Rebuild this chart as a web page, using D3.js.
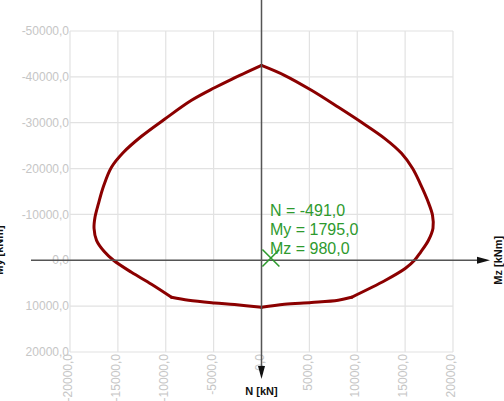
<!DOCTYPE html>
<html>
<head>
<meta charset="utf-8">
<script src="https://cdn.jsdelivr.net/npm/d3@7/dist/d3.min.js"></script>
<style>
  html, body { margin: 0; padding: 0; background: #fff; }
  svg { display: block; font-family: Arial, "Liberation Sans", sans-serif; }
</style>
</head>
<body>
<svg id="chart" width="504" height="401"></svg>
<script>
// Interaction envelope: bending moment Mz [kNm] vs. axial force N [kN], clockwise from the top
const envelopeMz = [0, 2400, 5220, 8040, 10440, 12850, 14620, 15770, 16610, 17340, 17860, 17910, 17440, 16610, 15980, 15040, 12950,
                    9400, 8010, 5220, 2400, 0, -2820, -4910, -7620,
                    -9400, -11490, -13580, -15460, -16400, -17230, -17490, -17390, -17020, -16500, -15670, -14410, -12530, -10130, -7310, -4910, -3130];
const envelopeN  = [-42500, -40340, -37070, -33360, -30090, -26600, -23330, -20060, -16570, -13080, -9810, -6980, -4360, -1740, 0, 1740, 4360,
                    8070, 8720, 9220, 9600, 10250, 9660, 9310, 8720,
                    8070, 5230, 2620, 0, -1850, -4360, -6980, -9380, -12430, -16140, -20280, -23550, -27040, -30750, -34890, -37620, -39470];
// Indices where the envelope has a sharp corner
const cornerIdx = [0, 17, 21, 25];

// Design load point
const loadN = -491.0;
const loadMy = 1795.0;
const loadMz = 980.0;

const xTicks = [-20000, -15000, -10000, -5000, 0, 5000, 10000, 15000, 20000];
const yTicks = [-50000, -40000, -30000, -20000, -10000, 0, 10000, 20000];

const fmt = v => d3.format(".1f")(v).replace(".", ",").replace("−", "-");

const svg = d3.select("#chart");
const x = d3.scaleLinear().domain([-20000, 20000]).range([70, 453]);
const y = d3.scaleLinear().domain([-50000, 20000]).range([31, 352]);

// Grid
const grid = svg.append("g").attr("stroke", "#e2e2e2").attr("stroke-width", 1.2);
grid.selectAll("line.v").data(xTicks).join("line")
  .attr("x1", d => x(d)).attr("x2", d => x(d))
  .attr("y1", y.range()[0]).attr("y2", y.range()[1]);
grid.selectAll("line.h").data(yTicks).join("line")
  .attr("y1", d => y(d)).attr("y2", d => y(d))
  .attr("x1", x.range()[0]).attr("x2", x.range()[1]);

// Tick labels
svg.append("g").selectAll("text").data(yTicks).join("text")
  .attr("x", 69).attr("y", d => y(d)).attr("dy", "0.35em")
  .attr("text-anchor", "end").attr("font-size", 12).attr("fill", "#c6c6c6")
  .text(fmt);
svg.append("g").selectAll("text").data(xTicks).join("text")
  .attr("transform", d => `translate(${x(d) - 2},${y.range()[1] + 2}) rotate(-90)`)
  .attr("dy", "0.35em")
  .attr("text-anchor", "end").attr("font-size", 12).attr("fill", "#c6c6c6")
  .text(fmt);

// Envelope: smooth pieces between the corner points
const pts = envelopeMz.map((m, i) => [x(m), y(envelopeN[i])]);
const bounds = cornerIdx.concat([pts.length]);
const smooth = d3.line().curve(d3.curveCatmullRom.alpha(0.5));
const envG = svg.append("g").attr("fill", "none").attr("stroke", "#8b0000")
  .attr("stroke-width", 3).attr("stroke-linejoin", "round").attr("stroke-linecap", "round");
for (let k = 0; k < cornerIdx.length; k++) {
  const seg = [];
  for (let i = bounds[k]; i <= bounds[k + 1]; i++) seg.push(pts[i % pts.length]);
  envG.append("path").attr("d", smooth(seg));
}

// Axes through origin with arrows
const axisColor = "#555";
svg.append("line").attr("x1", 31).attr("x2", 486).attr("y1", y(0)).attr("y2", y(0))
  .attr("stroke", axisColor).attr("stroke-width", 1.5);
svg.append("path")
  .attr("d", `M${490},${y(0)} L${477},${y(0) - 3.5} L${477},${y(0) + 3.5} Z`)
  .attr("fill", "#111");
svg.append("line").attr("x1", x(0)).attr("x2", x(0)).attr("y1", 0).attr("y2", 372)
  .attr("stroke", axisColor).attr("stroke-width", 1.5);
svg.append("path")
  .attr("d", `M${x(0)},${379} L${x(0) - 3.5},${366} L${x(0) + 3.5},${366} Z`)
  .attr("fill", "#111");

// Axis titles
svg.append("text").attr("x", x(0)).attr("y", 395).attr("text-anchor", "middle")
  .attr("font-size", 11).attr("font-weight", "bold").attr("fill", "#111").text("N [kN]");
svg.append("text").attr("transform", `translate(502,${y(0)}) rotate(-90)`)
  .attr("text-anchor", "middle").attr("font-size", 11).attr("font-weight", "bold")
  .attr("fill", "#111").text("Mz [kNm]");
svg.append("text").attr("transform", `translate(3,250) rotate(-90)`)
  .attr("text-anchor", "middle").attr("font-size", 11).attr("font-weight", "bold")
  .attr("fill", "#111").text("My [kNm]");

// Load point marker and values
const green = "#2e9a2e";
const px = x(loadMz), py = y(loadN), s = 8.5;
svg.append("path")
  .attr("d", `M${px - s},${py - s} L${px + s},${py + s} M${px - s},${py + s} L${px + s},${py - s}`)
  .attr("stroke", green).attr("stroke-width", 1.6).attr("fill", "none");
const labels = [`N = ${fmt(loadN)}`, `My = ${fmt(loadMy)}`, `Mz = ${fmt(loadMz)}`];
svg.append("g").selectAll("text").data(labels).join("text")
  .attr("x", 270).attr("y", (d, i) => 216 + i * 19)
  .attr("font-size", 16).attr("fill", green).text(d => d);
</script>
</body>
</html>
